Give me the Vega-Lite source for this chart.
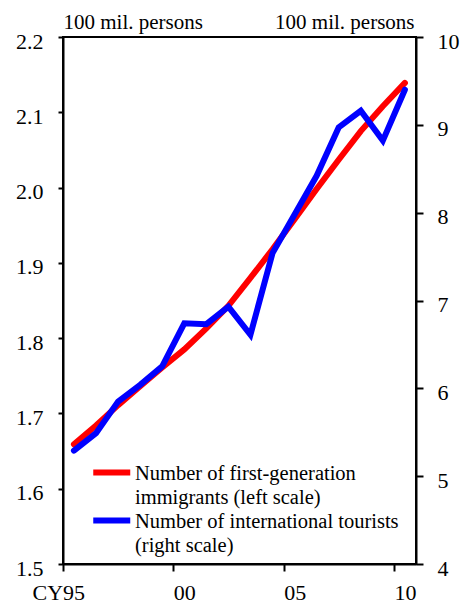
{
  "$schema": "https://vega.github.io/schema/vega-lite/v6.json",
  "autosize": "none",
  "width": 353,
  "height": 527,
  "padding": {"left": 63, "top": 37, "right": 50, "bottom": 41},
  "background": "white",
  "config": {
    "font": "Liberation Serif, Times New Roman, serif",
    "view": {"stroke": "black", "strokeWidth": 2},
    "axis": {
      "grid": false,
      "labelFont": "Liberation Serif, Times New Roman, serif",
      "labelFontSize": 22,
      "labelColor": "black",
      "titleFont": "Liberation Serif, Times New Roman, serif",
      "titleFontSize": 21,
      "titleFontWeight": "normal",
      "titleColor": "black",
      "domainColor": "black",
      "domainWidth": 2,
      "tickColor": "black",
      "tickWidth": 2
    },
    "legend": {
      "labelFont": "Liberation Serif, Times New Roman, serif",
      "labelFontSize": 20.5,
      "labelColor": "black"
    }
  },
  "datasets": {
    "immigrants": [
      {"date": "1995-07-01", "value": 1.659},
      {"date": "1996-07-01", "value": 1.684},
      {"date": "1997-07-01", "value": 1.711},
      {"date": "1998-07-01", "value": 1.736},
      {"date": "1999-07-01", "value": 1.761},
      {"date": "2000-07-01", "value": 1.785},
      {"date": "2001-07-01", "value": 1.813},
      {"date": "2002-07-01", "value": 1.843},
      {"date": "2003-07-01", "value": 1.880},
      {"date": "2004-07-01", "value": 1.918},
      {"date": "2005-07-01", "value": 1.958},
      {"date": "2006-07-01", "value": 1.998},
      {"date": "2007-07-01", "value": 2.037},
      {"date": "2008-07-01", "value": 2.075},
      {"date": "2009-07-01", "value": 2.108},
      {"date": "2010-07-01", "value": 2.139}
    ],
    "tourists": [
      {"date": "1995-07-01", "value": 5.29},
      {"date": "1996-07-01", "value": 5.49},
      {"date": "1997-07-01", "value": 5.85},
      {"date": "1998-07-01", "value": 6.04},
      {"date": "1999-07-01", "value": 6.25},
      {"date": "2000-07-01", "value": 6.74},
      {"date": "2001-07-01", "value": 6.73},
      {"date": "2002-07-01", "value": 6.93},
      {"date": "2003-07-01", "value": 6.61},
      {"date": "2004-07-01", "value": 7.54},
      {"date": "2005-07-01", "value": 7.98},
      {"date": "2006-07-01", "value": 8.42},
      {"date": "2007-07-01", "value": 8.97},
      {"date": "2008-07-01", "value": 9.16},
      {"date": "2009-07-01", "value": 8.82},
      {"date": "2010-07-01", "value": 9.40}
    ]
  },
  "encoding": {
    "x": {
      "field": "date",
      "type": "temporal",
      "scale": {
        "type": "utc",
        "domain": [
          {"year": 1995, "month": 1, "date": 1, "utc": true},
          {"year": 2011, "month": 1, "date": 1, "utc": true}
        ]
      },
      "axis": {
        "title": null,
        "values": [
          {"year": 1995, "month": 1, "date": 1, "utc": true},
          {"year": 2000, "month": 1, "date": 1, "utc": true},
          {"year": 2005, "month": 1, "date": 1, "utc": true},
          {"year": 2010, "month": 1, "date": 1, "utc": true}
        ],
        "labelExpr": "utcyear(datum.value) == 1995 ? 'CY95' : utcFormat(datum.value, '%y')",
        "labelAlign": "left",
        "labelBaseline": "alphabetic",
        "labelOffset": {"condition": {"test": "utcyear(datum.value) == 1995", "value": -31}, "value": 0},
        "tickSize": 7,
        "labelPadding": 28,
        "labelFlush": false,
        "labelOverlap": false
      }
    },
    "y": {"field": "value", "type": "quantitative"}
  },
  "layer": [
    {
      "data": {"name": "immigrants"},
      "mark": {"type": "line", "strokeWidth": 6, "strokeCap": "round"},
      "encoding": {
        "y": {
          "field": "value",
          "type": "quantitative",
          "scale": {"domain": [1.5, 2.2], "nice": false, "zero": false},
          "axis": {
            "orient": "left",
            "values": [1.5, 1.6, 1.7, 1.8, 1.9, 2.0, 2.1, 2.2],
            "format": ".1f",
            "tickSize": 5,
            "labelPadding": 15,
            "labelOffset": 4,
            "title": "100 mil. persons",
            "titleAngle": 0,
            "titleX": 0,
            "titleY": -9,
            "titleAlign": "left",
            "titleBaseline": "alphabetic"
          }
        },
        "color": {
          "datum": "imm",
          "scale": {"domain": ["imm", "tour"], "range": ["#ff0000", "#0000ff"]},
          "legend": {
            "title": null,
            "orient": "none",
            "legendX": 38.5,
            "legendY": 427.3,
            "padding": 0,
            "symbolType": "M-3.7,-0.4L3.7,-0.4",
            "symbolSize": 100,
            "symbolStrokeWidth": 6,
            "labelOffset": 13,
            "labelLimit": 400,
            "labelBaseline": "top",
            "rowPadding": 0,
            "labelExpr": "datum.value == 'imm' ? ['Number of first-generation', 'immigrants (left scale)'] : ['Number of international tourists', '(right scale)']",
            "encoding": {
              "labels": {
                "y": {"value": 0},
                "lineHeight": {"value": 23.5}
              }
            }
          }
        }
      }
    },
    {
      "data": {"name": "tourists"},
      "mark": {"type": "line", "strokeWidth": 6, "strokeCap": "round"},
      "encoding": {
        "y": {
          "field": "value",
          "type": "quantitative",
          "scale": {"domain": [4, 10], "nice": false, "zero": false},
          "axis": {
            "orient": "right",
            "values": [4, 5, 6, 7, 8, 9, 10],
            "tickSize": 7,
            "labelPadding": 14,
            "labelOffset": 4,
            "title": "100 mil. persons",
            "titleAngle": 0,
            "titleX": -2,
            "titleY": -9,
            "titleAlign": "right",
            "titleBaseline": "alphabetic"
          }
        },
        "color": {"datum": "tour"}
      }
    }
  ],
  "resolve": {"scale": {"y": "independent"}}
}
